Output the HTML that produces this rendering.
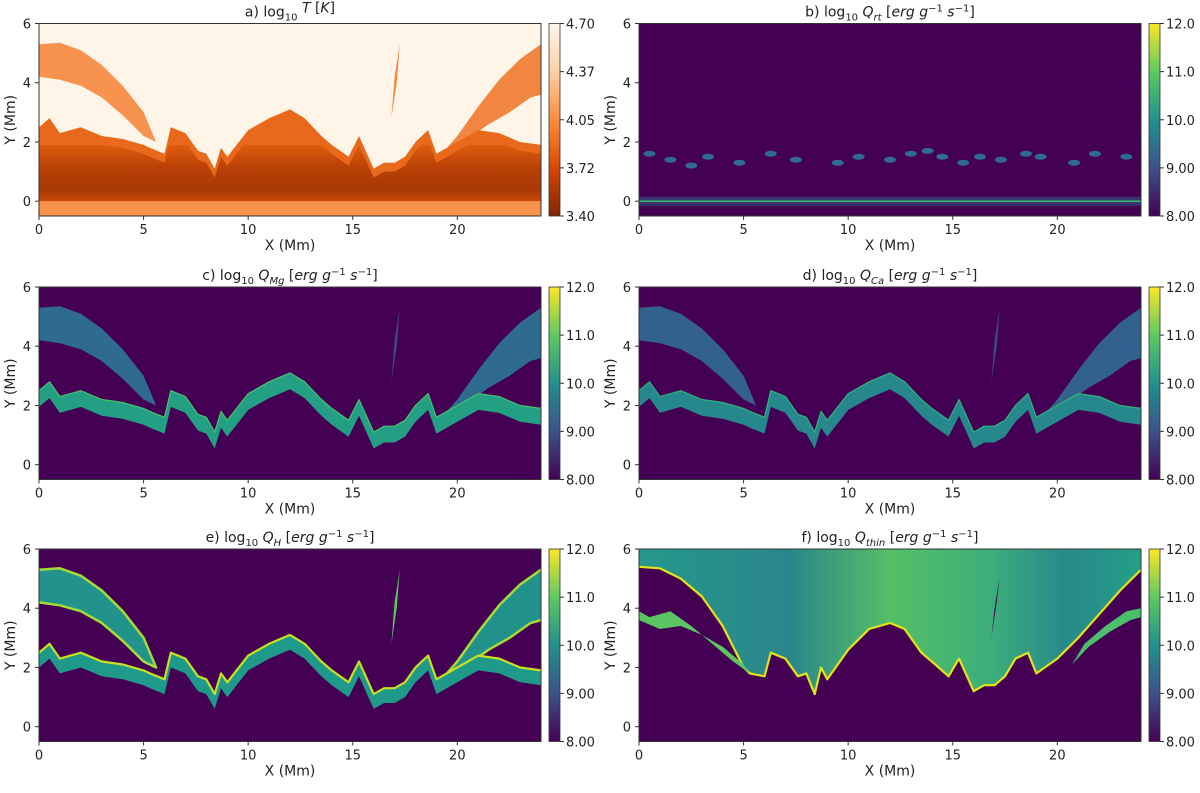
<!DOCTYPE html>
<html><head><meta charset="utf-8"><style>
body{margin:0;background:#fff;}
svg{display:block;font-family:"DejaVu Sans","Liberation Sans",sans-serif;}
</style></head><body>
<svg id="fig" width="1200" height="793" viewBox="0 0 1200 793">
<defs>
<linearGradient id="gOr" x1="0" y1="1" x2="0" y2="0"><stop offset="0" stop-color="#7f2704"/><stop offset="0.25" stop-color="#d94801"/><stop offset="0.5" stop-color="#fd8d3c"/><stop offset="0.75" stop-color="#fdd0a2"/><stop offset="1" stop-color="#fff5eb"/></linearGradient>
<linearGradient id="gVi" x1="0" y1="1" x2="0" y2="0"><stop offset="0" stop-color="#440154"/><stop offset="0.25" stop-color="#3b528b"/><stop offset="0.5" stop-color="#21918c"/><stop offset="0.75" stop-color="#5ec962"/><stop offset="1" stop-color="#fde725"/></linearGradient>
<linearGradient id="gDark" x1="0" y1="0" x2="0" y2="1"><stop offset="0" stop-color="#df5a0c"/><stop offset="0.4" stop-color="#b43d04"/><stop offset="0.8" stop-color="#a13403"/><stop offset="1" stop-color="#c84406"/></linearGradient>
<linearGradient id="gF" x1="0" y1="0" x2="1" y2="0"><stop offset="0" stop-color="#25988a"/><stop offset="0.3" stop-color="#2a868c"/><stop offset="0.5" stop-color="#55bf66"/><stop offset="0.7" stop-color="#3cae7a"/><stop offset="0.85" stop-color="#28898b"/><stop offset="1" stop-color="#23a086"/></linearGradient>
</defs>
</svg>
<script>
// ---- data ----
const xTicks=[0,5,10,15,20];
const yTicks=[6,4,2,0];
const cbTicksT=["4.70","4.37","4.05","3.72","3.40"];
const cbTicksQ=["12.0","11.0","10.0","9.00","8.00"];
// cool-plasma envelope boundary (Mm)
const profX=[0,1,2,3,4,5,5.3,6,6.3,7,7.6,8,8.4,8.7,9,10,11,12,12.7,13.5,14,14.8,15.3,16,16.5,17,17.5,18,18.6,19,20,21,22,23,24];
const profY=[5.4,5.35,5.0,4.4,3.4,2.0,1.8,1.7,2.5,2.3,1.7,1.8,1.1,2.0,1.6,2.6,3.3,3.5,3.3,2.5,2.2,1.7,2.3,1.2,1.4,1.4,1.7,2.3,2.5,1.8,2.3,3.0,3.8,4.6,5.3];
// chromospheric top (band) for Mg/Ca/H
const bandX=[0,0.5,1,2,3,4,5,5.3,6,6.3,7,7.6,8,8.4,8.7,9,10,11,12,12.7,13.5,14,14.8,15.3,16,16.5,17,17.5,18,18.6,19,20,21,22,23,24];
const bandY=[2.5,2.8,2.3,2.5,2.2,2.1,1.9,1.8,1.6,2.5,2.3,1.7,1.6,1.1,1.8,1.5,2.4,2.8,3.1,2.8,2.2,1.9,1.5,2.2,1.1,1.3,1.3,1.5,2.0,2.4,1.6,2.0,2.4,2.3,2.0,1.9];
// left arch (upper edge then lower edge)
const archLX=[0,1,2,3,4,5,5.6,5,4,3,2,1,0];
const archLY=[5.3,5.35,5.1,4.6,3.9,3.0,2.0,2.2,2.9,3.5,3.9,4.1,4.2];
// right arch
const archRX=[24,23,22,21,20,19.5,20.5,21.5,22.5,23.5,24];
const archRY=[5.3,4.8,4.1,3.2,2.2,1.8,2.1,2.6,3.0,3.5,3.6];
// spicule
const spicX=[16.85,17.1,17.25,17.0,16.85];
const spicY=[2.8,4.0,5.3,4.2,2.8];
// Qrt blobs near y~1.5 (x,y)
const blobX=[0.5,1.5,2.5,3.3,4.8,6.3,7.5,9.5,10.5,12,13,13.8,14.5,15.5,16.3,17.3,18.5,19.2,20.8,21.8,23.3];
const blobY=[1.6,1.4,1.2,1.5,1.3,1.6,1.4,1.3,1.5,1.4,1.6,1.7,1.5,1.3,1.5,1.4,1.6,1.5,1.3,1.6,1.5];
// left blob region in panel f
const fLX=[0,1,2,3,4,5,5.3,4.5,3.5,2.5,1.5,0.5,0];
const fLY=[3.6,3.3,3.4,3.1,2.7,2.1,1.8,2.2,2.8,3.4,3.9,3.7,3.9];
const fRX=[20.7,21.5,22.5,23.5,24,24,23.3,22.3,21.3,20.7];
const fRY=[2.1,2.7,3.2,3.6,3.7,4.0,3.9,3.4,2.8,2.1];

const NS="http://www.w3.org/2000/svg";
const svg=document.getElementById('fig');
const PW=502, PH=192.5;
const panels=[
 {ox:39,oy:23.5,k:'a'},{ox:639,oy:23.5,k:'b'},
 {ox:39,oy:287,k:'c'},{ox:639,oy:287,k:'d'},
 {ox:39,oy:549,k:'e'},{ox:639,oy:549,k:'f'}];
function mk(tag,attrs,parent){const e=document.createElementNS(NS,tag);for(const a in attrs)e.setAttribute(a,attrs[a]);(parent||svg).appendChild(e);return e;}
function sx(p,x){return p.ox+x*PW/24;}
function sy(p,y){return p.oy+(6-y)*PH/6.5;}
function pts(p,X,Y){return X.map((x,i)=>sx(p,x).toFixed(1)+','+sy(p,Y[i]).toFixed(1)).join(' ');}
function above(p,X,Y){return pts(p,X,Y)+' '+sx(p,24)+','+sy(p,6)+' '+sx(p,0)+','+sy(p,6);}
function below(p,X,Y,bot){return pts(p,X,Y)+' '+sx(p,24)+','+sy(p,bot)+' '+sx(p,0)+','+sy(p,bot);}
function band(p,X,Y,d){const X2=X.slice().reverse(),Y2=Y.slice().reverse().map(v=>v-d);return pts(p,X,Y)+' '+pts(p,X2,Y2);}
function line(p,X,Y,attrs,g){return mk('polyline',Object.assign({points:pts(p,X,Y),fill:'none','stroke-linejoin':'round'},attrs),g);}

const titles={
 a:['a) log','10',' ','T',' [','K',']'],
 b:['b) log','10',' Q','rt',' [erg g','−1',' s','−1',']'],
 c:['c) log','10',' Q','Mg',' [erg g','−1',' s','−1',']'],
 d:['d) log','10',' Q','Ca',' [erg g','−1',' s','−1',']'],
 e:['e) log','10',' Q','H',' [erg g','−1',' s','−1',']'],
 f:['f) log','10',' Q','thin',' [erg g','−1',' s','−1',']']};

panels.forEach(p=>{
 const g=mk('g',{});
 
 
 const clipId='clip'+p.k;
 const cp=mk('clipPath',{id:clipId},g);mk('rect',{x:p.ox,y:p.oy,width:PW,height:PH},cp);
 const h=mk('g',{'clip-path':'url(#'+clipId+')'},g);
 
 
 if(p.k==='a'){
  mk('rect',{x:p.ox,y:p.oy,width:PW,height:PH,fill:'#fff4e8'},h);
  mk('polygon',{points:pts(p,archLX,archLY),fill:'#f6883e','fill-opacity':0.9},h);
  mk('polygon',{points:pts(p,archRX,archRY),fill:'#f07a30','fill-opacity':0.9},h);
  mk('polygon',{points:pts(p,spicX,spicY),fill:'#f6883e'},h);
  mk('polygon',{points:below(p,bandX,bandY,-0.5),fill:'#e8691c'},h);
  const cp2=mk('clipPath',{id:'chromClip'},g);
  mk('polygon',{points:below(p,bandX,bandY.map(v=>v-0.3),-0.5)},cp2);
  const dg=mk('g',{'clip-path':'url(#chromClip)'},h);
  mk('rect',{x:p.ox,y:sy(p,1.9),width:PW,height:sy(p,0)-sy(p,1.9),fill:'url(#gDark)','fill-opacity':0.9},dg);
  mk('rect',{x:p.ox,y:sy(p,0.0),width:PW,height:sy(p,-0.5)-sy(p,0.0),fill:'#f7934a'},h);
 } else if(p.k==='b'){
  mk('rect',{x:p.ox,y:p.oy,width:PW,height:PH,fill:'#440154'},h);
  blobX.forEach((x,i)=>{const e=mk('ellipse',{cx:sx(p,x),cy:sy(p,blobY[i]),rx:6,ry:3,fill:'#2f6c8e'},h);
   });
  mk('rect',{x:p.ox,y:sy(p,0.15),width:PW,height:sy(p,-0.15)-sy(p,0.15),fill:'#30678d','fill-opacity':0.5},h);
  mk('line',{x1:p.ox,x2:p.ox+PW,y1:sy(p,0),y2:sy(p,0),stroke:'#3fbc73','stroke-width':1.5},h);
 } else if(p.k==='c'||p.k==='d'){
  mk('rect',{x:p.ox,y:p.oy,width:PW,height:PH,fill:'#440154'},h);
  const ac=p.k==='c'?'#2f6b8e':'#33618d';
  mk('polygon',{points:pts(p,archLX,archLY),fill:ac},h);
  mk('polygon',{points:pts(p,archRX,archRY),fill:ac},h);
  mk('polygon',{points:pts(p,spicX,spicY),fill:'#3e4a89'},h);
  mk('polygon',{points:band(p,bandX,bandY,0.55),fill:p.k==='c'?'#23a083':'#26888d'},h);
  line(p,bandX,bandY,{stroke:p.k==='c'?'#4ac16d':'#2fb47c','stroke-width':1.2},h);
 } else if(p.k==='e'){
  mk('rect',{x:p.ox,y:p.oy,width:PW,height:PH,fill:'#440154'},h);
  mk('polygon',{points:pts(p,archLX,archLY),fill:'#22938b'},h);
  line(p,archLX,archLY,{stroke:'#a5db36','stroke-width':2.5},h);
  mk('polygon',{points:pts(p,archRX,archRY),fill:'#21918c'},h);
  line(p,archRX,archRY,{stroke:'#a5db36','stroke-width':2.5},h);
  mk('polygon',{points:pts(p,spicX,spicY),fill:'#5ec962'},h);
  mk('polygon',{points:band(p,bandX,bandY,0.5),fill:'#1f9a8a'},h);
  line(p,bandX,bandY,{stroke:'#c8e020','stroke-width':2.2},h);
 } else {
  mk('rect',{x:p.ox,y:p.oy,width:PW,height:PH,fill:'#440154'},h);
  mk('polygon',{points:above(p,profX,profY),fill:'url(#gF)'},h);
  line(p,profX,profY,{stroke:'#e2e418','stroke-width':2.2},h);
  mk('polygon',{points:pts(p,spicX,spicY.map(v=>v>4?v-0.2:v+0.2)),fill:'#440154'},h);
  mk('polygon',{points:pts(p,fLX,fLY),fill:'#5cc563'},h);
  mk('polygon',{points:pts(p,fRX,fRY),fill:'#4cbf6a'},h);
 }
 mk('rect',{x:p.ox,y:p.oy,width:PW,height:PH,fill:'none',stroke:'#333','stroke-width':1},g);
 xTicks.forEach(t=>{const x=sx(p,t);mk('line',{x1:x,x2:x,y1:p.oy+PH,y2:p.oy+PH+4,stroke:'#333'},g);
  const tx=mk('text',{x:x,y:p.oy+PH+18,'text-anchor':'middle','font-size':13,fill:'#222'},g);tx.textContent=t;
  });
 yTicks.forEach(t=>{const y=sy(p,t);mk('line',{x1:p.ox-4,x2:p.ox,y1:y,y2:y,stroke:'#333'},g);
  const tx=mk('text',{x:p.ox-8,y:y+5,'text-anchor':'end','font-size':13,fill:'#222'},g);tx.textContent=t;
  });
 const xl=mk('text',{x:p.ox+PW/2,y:p.oy+PH+34,'text-anchor':'middle','font-size':14,fill:'#222'},g);xl.textContent='X (Mm)';
 
 const yl=mk('text',{x:0,y:0,'text-anchor':'middle','font-size':14,fill:'#222',transform:'translate('+(p.ox-24)+','+(p.oy+PH/2)+') rotate(-90)'},g);yl.textContent='Y (Mm)';
 
 const tt=mk('text',{x:p.ox+PW/2,y:p.oy-7,'text-anchor':'middle','font-size':14,fill:'#222'},g);
 
 const parts=titles[p.k];
 parts.forEach((s,i)=>{const ts=mk('tspan',{},tt);ts.textContent=s;
  if(s==='10'){ts.setAttribute('font-size',10);ts.setAttribute('dy',4);}
  else if(i===3){ if(p.k==='a'){ts.setAttribute('font-style','italic');ts.setAttribute('dy',-4);} else {ts.setAttribute('font-size',10);ts.setAttribute('font-style','italic');ts.setAttribute('dy',4);} }
  else if(s==='−1'){ts.setAttribute('font-size',10);ts.setAttribute('dy',-5);}
  else if(i>0&&parts[i-1]==='10'){ts.setAttribute('dy',-4);if(p.k!=='a')ts.setAttribute('font-style','italic');}
  else if(i>0&&parts[i-1]==='−1'){ts.setAttribute('dy',5);if(s!==']')ts.setAttribute('font-style','italic');}
  else if(i>0&&(parts[i-1]==='rt'||parts[i-1]==='Mg'||parts[i-1]==='Ca'||parts[i-1]==='H'||parts[i-1]==='thin')){ts.setAttribute('dy',-4);ts.textContent=' [';const t2=mk('tspan',{'font-style':'italic'},tt);t2.textContent='erg g';}
  else if(p.k==='a'&&s==='K'){ts.setAttribute('font-style','italic');}
 });
 const cx=p.ox+PW+8;
 const cb=mk('rect',{x:cx,y:p.oy,width:11,height:PH,fill:p.k==='a'?'url(#gOr)':'url(#gVi)',stroke:'#333','stroke-width':0.8},g);
 
 const labs=p.k==='a'?cbTicksT:cbTicksQ;
 labs.forEach((l,i)=>{const y=p.oy+i*PH/4;mk('line',{x1:cx+11,x2:cx+15,y1:y,y2:y,stroke:'#333'},g);
  const tx=mk('text',{x:cx+17,y:y+5,'font-size':13,fill:'#222'},g);tx.textContent=l;
  });
});
</script>
</body></html>
